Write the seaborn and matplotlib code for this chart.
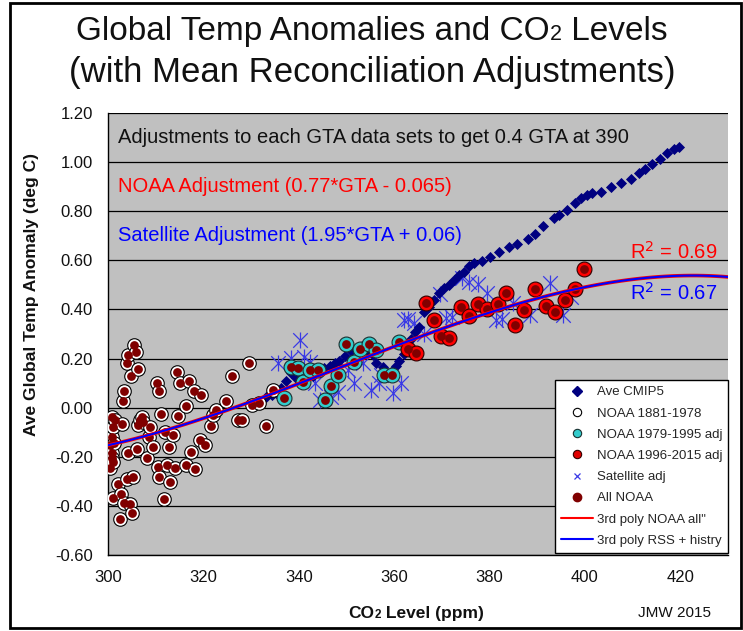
import matplotlib
matplotlib.use("Agg")
import matplotlib.pyplot as plt
import seaborn as sns
import numpy as np
from matplotlib.lines import Line2D
from matplotlib.patches import Rectangle

sns.set_style("white")
plt.rcParams['font.family'] = ['Liberation Sans', 'DejaVu Sans']

# ---------------- data ----------------
cmip_x = [333.2, 334.3, 335.3, 336.3, 337.3, 338.4, 339.5, 340.6, 341.8, 342.9, 344.1, 345.3,
          346.5, 347.5, 348.5, 349.7, 350.9, 352.0, 353.2, 354.4, 355.5, 356.2, 357.6, 358.3,
          359.5, 360.3, 361.1, 362.1, 363.5, 364.4, 365.3, 366.3, 367.4, 368.4, 369.5, 370.5,
          371.5, 372.6, 373.6, 374.7, 375.7, 376.8, 378.5, 380.1, 382.0, 384.0, 385.8, 388.1,
          389.5, 391.2, 393.5, 394.6, 396.3, 397.9, 399.1, 400.5, 401.5, 403.3, 405.4, 407.5,
          409.6, 411.3, 412.7, 414.0, 415.8, 417.2, 418.6, 419.7]
cmip_y = [0.045, 0.05, 0.06, 0.08, 0.11, 0.14, 0.12, 0.10, 0.12, 0.13, 0.15, 0.16,
          0.17, 0.18, 0.19, 0.21, 0.23, 0.24, 0.25, 0.23, 0.215, 0.18, 0.165, 0.14,
          0.15, 0.17, 0.19, 0.22, 0.28, 0.31, 0.33, 0.39, 0.41, 0.44, 0.466, 0.488,
          0.50, 0.52, 0.541, 0.554, 0.575, 0.591, 0.598, 0.612, 0.632, 0.654, 0.668, 0.688,
          0.707, 0.738, 0.773, 0.786, 0.807, 0.832, 0.852, 0.865, 0.876, 0.878, 0.898, 0.916,
          0.932, 0.956, 0.973, 0.993, 1.014, 1.038, 1.052, 1.063]

noaa_early_x = [300.4, 300.4, 300.8, 300.8, 300.8, 300.8, 301.0, 301.1, 301.1, 301.3, 301.5,
                302.0, 302.5, 302.7, 302.9, 303.1, 303.3, 303.3, 303.9, 303.9, 304.2, 304.2,
                304.6, 304.8, 305.1, 305.3, 305.5, 305.9, 306.1, 306.3, 306.3, 306.7, 307.1,
                307.4, 308.1, 308.6, 308.8, 309.4, 310.2, 310.5, 310.7, 310.7, 311.2, 311.8,
                311.9, 312.3, 312.8, 313.1, 313.7, 314.0, 314.4, 314.6, 315.1, 316.3, 316.3,
                317.0, 317.5, 318.1, 318.2, 319.6, 319.2, 320.3, 321.7, 322.0, 322.7, 324.8,
                326.1, 327.3, 328.0, 329.6, 330.1, 331.7, 333.1, 334.6]
noaa_early_y = [-0.247, -0.152, -0.037, -0.118, -0.186, -0.206, -0.220, -0.369, -0.077, -0.145, -0.050,
                -0.311, -0.455, -0.352, -0.068, 0.027, 0.068, -0.389, 0.181, -0.290, 0.215, -0.183,
                -0.392, 0.130, -0.428, -0.281, 0.255, 0.228, -0.170, 0.156, -0.070, -0.050, -0.039,
                -0.057, -0.206, -0.118, -0.077, -0.159, 0.099, -0.240, 0.068, -0.281, -0.025, -0.373,
                -0.098, -0.233, -0.159, -0.301, -0.111, -0.247, 0.144, -0.035, 0.099, 0.005, -0.233,
                0.110, -0.182, 0.068, -0.251, 0.051, -0.132, -0.152, -0.073, -0.030, -0.009, 0.027,
                0.130, -0.050, -0.050, 0.181, 0.011, 0.018, -0.075, 0.072]

noaa_mid_x = [337.0, 338.4, 339.8, 340.9, 342.3, 344.0, 345.4, 346.8, 348.2, 349.8, 351.5,
              352.9, 354.7, 356.1, 357.9, 359.6, 361.1]
noaa_mid_y = [0.038, 0.167, 0.160, 0.106, 0.154, 0.154, 0.031, 0.088, 0.133, 0.258, 0.187,
              0.238, 0.259, 0.235, 0.133, 0.133, 0.269]

noaa_late_x = [362.8, 364.6, 366.7, 368.4, 369.8, 371.5, 374.0, 375.7, 377.5, 379.4, 381.7,
               383.4, 385.4, 387.2, 389.5, 391.8, 393.7, 395.8, 397.9, 399.8]
noaa_late_y = [0.239, 0.222, 0.428, 0.357, 0.292, 0.283, 0.411, 0.374, 0.422, 0.401, 0.422,
               0.466, 0.336, 0.398, 0.482, 0.414, 0.391, 0.439, 0.482, 0.564]

sat_x = [335.6, 338.4, 340.2, 341.2, 342.3, 343.3, 344.4, 346.8, 348.2, 350.3, 351.6, 353.4,
         355.2, 356.9, 357.3, 359.7, 361.4, 362.1, 362.8, 364.2, 366.2, 369.6, 370.9, 372.2,
         374.3, 375.7, 377.5, 379.4, 381.3, 382.6, 384.9, 388.4, 392.6, 395.3, 397.0]
sat_y = [0.181, 0.201, 0.276, 0.208, 0.187, 0.099, 0.031, 0.045, 0.065, 0.154, 0.10, 0.181,
         0.072, 0.10, 0.133, 0.059, 0.099, 0.357, 0.36, 0.344, 0.30, 0.462, 0.364, 0.37,
         0.527, 0.513, 0.503, 0.466, 0.355, 0.36, 0.425, 0.378, 0.507, 0.378, 0.449]

all_noaa_x = noaa_early_x + noaa_mid_x + noaa_late_x
all_noaa_y = noaa_early_y + noaa_mid_y + noaa_late_y

x_ticks = [300, 320, 340, 360, 380, 400, 420]
y_ticks = [-0.6, -0.4, -0.2, 0.0, 0.2, 0.4, 0.6, 0.8, 1.0, 1.2]

# ---------------- colours ----------------
GRAY = '#C0C0C0'
NAVY = '#000080'
CYAN = '#33CCCC'
RED = '#FF0000'
DKRED = '#800000'
SATBLUE = '#3A3AE6'

W, H = 743, 631
fig = plt.figure(figsize=(W / 100, H / 100), dpi=100)
ax = fig.add_axes([108 / W, 1 - 555 / H, 620 / W, 442 / H])
ax.set_facecolor(GRAY)
ax.set_xlim(300, 430)
ax.set_ylim(-0.6, 1.2)
ax.set_axisbelow(True)

# satellite asterisks (x + vertical bar)
sns.scatterplot(x=sat_x, y=sat_y, marker='x', s=110, color=SATBLUE, linewidth=0.9, ax=ax, zorder=2)
sns.scatterplot(x=sat_x, y=sat_y, marker='|', s=130, color=SATBLUE, linewidth=0.9, ax=ax, zorder=2)
# CMIP5 diamonds
sns.scatterplot(x=cmip_x, y=cmip_y, marker='D', s=32, color=NAVY, linewidth=0, ax=ax, zorder=3)
# NOAA series
sns.scatterplot(x=noaa_early_x, y=noaa_early_y, marker='o', s=95, color='white',
                edgecolor='black', linewidth=0.8, ax=ax, zorder=3)
sns.scatterplot(x=noaa_mid_x, y=noaa_mid_y, marker='o', s=115, color=CYAN,
                edgecolor='#1a3030', linewidth=0.8, ax=ax, zorder=3)
sns.scatterplot(x=noaa_late_x, y=noaa_late_y, marker='o', s=115, color=RED,
                edgecolor='#300000', linewidth=0.8, ax=ax, zorder=3)
sns.scatterplot(x=all_noaa_x, y=all_noaa_y, marker='o', s=40, color=DKRED,
                linewidth=0, ax=ax, zorder=4)

# 3rd order polynomial trend lines (red drawn a little wider so it peeks out under blue)
sns.regplot(x=np.array(all_noaa_x), y=np.array(all_noaa_y), order=3, scatter=False, ci=None,
            truncate=False, line_kws=dict(color=RED, lw=2.6, zorder=5), ax=ax)
sns.regplot(x=np.array(all_noaa_x), y=np.array(all_noaa_y), order=3, scatter=False, ci=None,
            truncate=False, line_kws=dict(color='#0000FF', lw=1.5, zorder=6), ax=ax)

ax.set_xlim(300, 430)
ax.set_ylim(-0.6, 1.2)
ax.set_xticks(x_ticks)
ax.set_xticklabels([str(t) for t in x_ticks])
ax.set_yticks(y_ticks)
ax.set_yticklabels([f"{t:.2f}" for t in y_ticks])
ax.tick_params(axis='both', direction='out', length=6, width=1, color='black',
               labelsize=12, labelcolor='#111111', pad=5)
ax.grid(axis='y', color='black', lw=0.9)
ax.grid(axis='x', visible=False)
for s in ['top', 'right']:
    ax.spines[s].set_visible(False)
for s in ['left', 'bottom']:
    ax.spines[s].set_color('black')
    ax.spines[s].set_linewidth(1)
ax.set_xlabel('')
ax.set_ylabel('')

# annotations
ax.text(302.0, 1.10, 'Adjustments to each GTA data sets to get 0.4 GTA at 390',
        fontsize=14.5, color='#111111', va='center', ha='left')
ax.text(302.0, 0.90, 'NOAA Adjustment (0.77*GTA - 0.065)',
        fontsize=14.5, color=RED, va='center', ha='left')
ax.text(302.0, 0.70, 'Satellite Adjustment (1.95*GTA + 0.06)',
        fontsize=14.5, color='#0000FF', va='center', ha='left')
ax.text(427.8, 0.635, 'R$^2$ = 0.69', fontsize=14.5, color=RED, va='center', ha='right')
ax.text(427.8, 0.466, 'R$^2$ = 0.67', fontsize=14.5, color='#0000FF', va='center', ha='right')

# legend
handles = [
    Line2D([], [], ls='none', marker='D', ms=5, mfc=NAVY, mec=NAVY),
    Line2D([], [], ls='none', marker='o', ms=6, mfc='white', mec='black', mew=0.8),
    Line2D([], [], ls='none', marker='o', ms=6, mfc=CYAN, mec='#1a3030', mew=0.8),
    Line2D([], [], ls='none', marker='o', ms=6, mfc='#E00000', mec='#300000', mew=0.8),
    Line2D([], [], ls='none', marker='x', ms=5, mec=SATBLUE, mew=0.9),
    Line2D([], [], ls='none', marker='o', ms=6, mfc=DKRED, mec=DKRED),
    Line2D([], [], color=RED, lw=1.5),
    Line2D([], [], color='#0000FF', lw=1.5),
]
labels = ['Ave CMIP5', 'NOAA 1881-1978', 'NOAA 1979-1995 adj', 'NOAA 1996-2015 adj',
          'Satellite adj', 'All NOAA', '3rd poly NOAA all"', '3rd poly RSS + histry']
leg = ax.legend(handles, labels, loc='lower right', bbox_to_anchor=(1.0, 0.005),
                borderaxespad=0, frameon=True, fancybox=False, framealpha=1,
                edgecolor='black', fontsize=9.5, handlelength=2.4, handletextpad=0.3,
                labelspacing=0.68, borderpad=0.45)
leg.get_frame().set_linewidth(1.0)
leg.set_zorder(10)


def rich_line(parts, cx, y, **kw):
    texts = [fig.text(0, y, s, fontsize=fs, va='baseline', ha='left', **kw) for s, fs in parts]
    fig.canvas.draw()
    r = fig.canvas.get_renderer()
    widths = [t.get_window_extent(r).width / fig.bbox.width for t in texts]
    x = cx - sum(widths) / 2
    for t, w in zip(texts, widths):
        t.set_x(x)
        x += w
    return texts


# title
rich_line([('Global Temp Anomalies and CO', 24), ('2', 15.5), (' Levels', 24)],
          372 / W, 1 - 40 / H, color='#111111')
fig.text(372 / W, 1 - 82 / H, '(with Mean Reconciliation Adjustments)', fontsize=25,
         ha='center', va='baseline', color='#111111')

# axis labels
rich_line([('CO', 12.5), ('2', 8.5), (' Level (ppm)', 12.5)], 416 / W, 1 - 618 / H,
          fontweight='bold', color='#111111')
fig.text(32 / W, 1 - 295 / H, 'Ave Global Temp Anomaly (deg C)', rotation=90,
         fontsize=12.5, fontweight='bold', ha='center', va='center', color='#111111')
fig.text(675 / W, 1 - 613 / H, 'JMW 2015', fontsize=11, ha='center', va='center',
         color='#111111')

# outer frame
fig.add_artist(Rectangle((10 / W, 3 / H), 731 / W, 625 / H, transform=fig.transFigure,
                         fill=False, edgecolor='black', lw=2))

fig.savefig('out.png', dpi=100)
